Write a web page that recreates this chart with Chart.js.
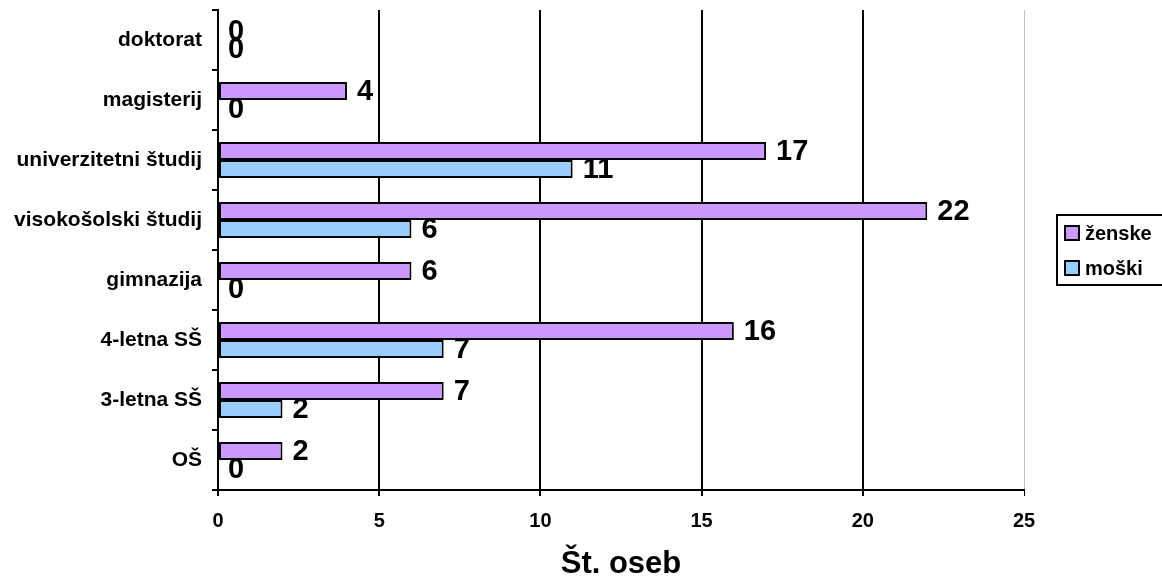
<!DOCTYPE html>
<html>
<head>
<meta charset="utf-8">
<script src="https://cdn.jsdelivr.net/npm/chart.js@4/dist/chart.umd.min.js"></script>
<style>
  html, body { margin: 0; padding: 0; background: #fff; overflow: hidden; }
  canvas { display: block; }
</style>
</head>
<body>
<canvas id="c" width="1162" height="583"></canvas>
<script>
// Izobrazba zaposlenih po spolu
const categories = ['doktorat', 'magisterij', 'univerzitetni študij', 'visokošolski študij',
                    'gimnazija', '4-letna SŠ', '3-letna SŠ', 'OŠ'];
const zenske = [0, 4, 17, 22, 6, 16, 7, 2];
const moski  = [0, 0, 11, 6, 0, 7, 2, 0];
const xTicks = [0, 5, 10, 15, 20, 25];
const axisTitle = 'Št. oseb';

const FONT = "'Liberation Sans', Arial, sans-serif";
const PURPLE = '#CC99FF';
const BLUE = '#99CCFF';

// Value labels to the right of each bar
const valueLabels = {
  id: 'valueLabels',
  afterDatasetsDraw(chart) {
    const ctx = chart.ctx;
    ctx.save();
    ctx.font = `bold 29px ${FONT}`;
    ctx.fillStyle = '#000';
    ctx.textAlign = 'left';
    ctx.textBaseline = 'middle';
    chart.data.datasets.forEach((ds, di) => {
      chart.getDatasetMeta(di).data.forEach((bar, i) => {
        ctx.fillText(String(ds.data[i]), bar.x + 10, bar.y + 1);
      });
    });
    ctx.restore();
  }
};

// Boxed legend on the right of the plot
const boxLegend = {
  id: 'boxLegend',
  afterDraw(chart) {
    const ctx = chart.ctx;
    const a = chart.chartArea;
    const x = a.right + 33;
    const cy = (a.top + a.bottom) / 2;
    const h = 70;
    const y = cy - h / 2;
    ctx.save();
    ctx.fillStyle = '#fff';
    ctx.fillRect(x, y, 140, h);
    ctx.strokeStyle = '#000';
    ctx.lineWidth = 2;
    ctx.strokeRect(x, y, 140, h);
    ctx.font = `bold 20px ${FONT}`;
    ctx.textAlign = 'left';
    ctx.textBaseline = 'middle';
    chart.data.datasets.forEach((ds, di) => {
      const iy = y + 18 + di * 35;
      ctx.fillStyle = ds.backgroundColor;
      ctx.fillRect(x + 8, iy - 7, 14, 14);
      ctx.lineWidth = 2;
      ctx.strokeStyle = '#000';
      ctx.strokeRect(x + 8, iy - 7, 14, 14);
      ctx.fillStyle = '#000';
      ctx.fillText(ds.label, x + 28, iy + 1);
    });
    ctx.restore();
  }
};

new Chart(document.getElementById('c'), {
  type: 'bar',
  data: {
    labels: categories,
    datasets: [
      { label: 'ženske', data: zenske, backgroundColor: PURPLE, borderColor: '#000',
        borderWidth: 2, borderSkipped: false },
      { label: 'moški', data: moski, backgroundColor: BLUE, borderColor: '#000',
        borderWidth: 2, borderSkipped: false }
    ]
  },
  options: {
    indexAxis: 'y',
    responsive: false,
    animation: false,
    categoryPercentage: 0.6,
    barPercentage: 1.0,
    layout: { padding: { top: 10, right: 138, bottom: 0, left: 0 } },
    plugins: {
      legend: { display: false },
      tooltip: { enabled: false }
    },
    scales: {
      x: {
        min: 0,
        max: 25,
        afterBuildTicks(scale) { scale.ticks = xTicks.map(v => ({ value: v })); },
        afterFit(scale) { scale.height = 93; scale.paddingLeft = 0; scale.paddingRight = 0; },
        ticks: {
          color: '#000',
          font: { family: FONT, size: 20, weight: 'bold' },
          padding: 13
        },
        grid: {
          color: c => (c.tick && c.tick.value === 25 ? '#c0c0c0' : '#000'),
          lineWidth: c => (c.tick && c.tick.value === 25 ? 1 : 2),
          tickColor: '#000',
          tickLength: 6
        },
        border: { display: true, color: '#000', width: 2 },
        title: {
          display: true,
          text: axisTitle,
          color: '#000',
          font: { family: FONT, size: 31, weight: 'bold' },
          padding: { top: 0, bottom: 0 }
        }
      },
      y: {
        afterFit(scale) { scale.width = 218; scale.paddingTop = 0; scale.paddingBottom = 0; },
        ticks: {
          color: '#000',
          font: { family: FONT, size: 21, weight: 'bold' },
          padding: 10
        },
        grid: {
          offset: true,
          drawOnChartArea: false,
          color: '#000',
          lineWidth: 2,
          tickLength: 6
        },
        border: { display: true, color: '#000', width: 2 }
      }
    }
  },
  plugins: [valueLabels, boxLegend]
});
</script>
</body>
</html>
